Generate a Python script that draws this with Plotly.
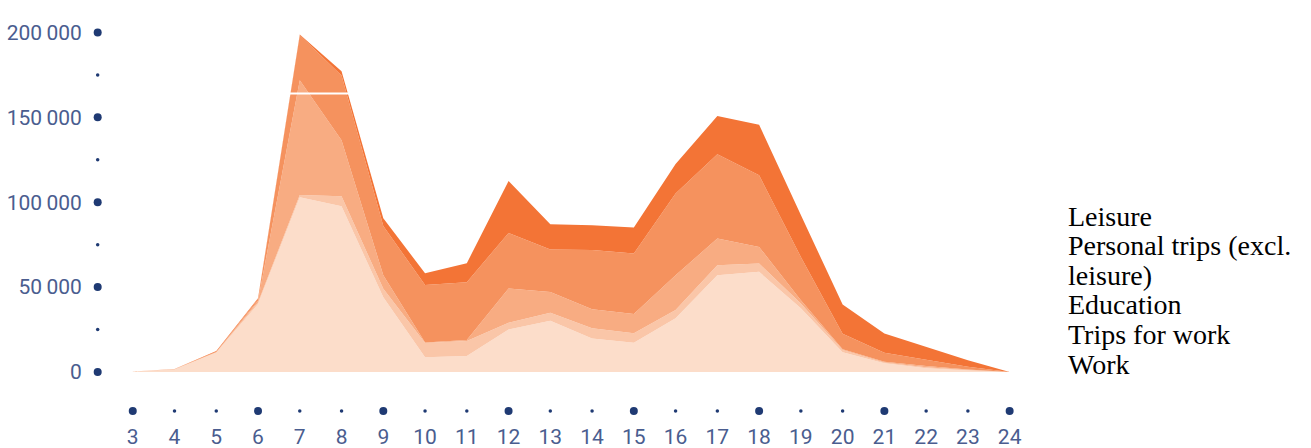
import textwrap
import plotly.graph_objects as go

# ---------------- data ----------------
hours = list(range(3, 25))
series_names = ["Work", "Trips for work", "Education",
                "Personal trips (excl. leisure)", "Leisure"]
work = [300, 1500, 11500, 40000, 103000, 97600, 44000, 8650, 9400, 25100, 30200,
        19800, 17200, 31600, 57000, 59000, 37500, 11600, 5100, 2200, 900, 0]
trips_for_work = [0, 50, 200, 1000, 1300, 5900, 5000, 8450, 8900, 3900, 4700,
                  5900, 5600, 4900, 5900, 4900, 2900, 1300, 500, 600, 300, 0]
education = [0, 50, 100, 1000, 67500, 33000, 8000, 300, 500, 20200, 12300,
             11200, 11300, 20500, 15700, 9800, 1900, 500, 450, 700, 300, 0]
personal = [0, 100, 200, 1000, 26500, 38200, 29000, 33800, 34100, 32700, 25000,
            34900, 35700, 48100, 49600, 42200, 25500, 9100, 5300, 3550, 1600, 0]
leisure = [0, 100, 300, 500, 500, 2500, 4500, 7000, 11200, 30600, 14800,
           14700, 15300, 17400, 22600, 29800, 24700, 17200, 11400, 7650, 3800, 0]

y_tick_values = [0, 50000, 100000, 150000, 200000]
y_tick_labels = ["0", "50\u2009000", "100\u2009000", "150\u2009000", "200\u2009000"]
y_minor_values = [25000, 75000, 125000, 175000]
x_major_hours = [3, 6, 9, 12, 15, 18, 21, 24]
x_tick_labels = [str(h) for h in hours]

# ---------------- style ----------------
colors = ["#FCDDCA", "#FAC6A8", "#F8AC82", "#F5925E", "#F37436"]
label_color = "#4A5D8F"
dot_color = "#1F3A73"
x_range = [2.0, 24.2]
y_range = [-24740, 205000]
dot_row_y = -22970      # row of dot tick marks below the baseline
dot_col_x = 2.16        # column of dot tick marks left of the first hour
M_L, M_R, M_T, M_B = 91, 293, 24, 34
W, H = 1311, 448
plot_h = H - M_T - M_B
plot_w = W - M_L - M_R

fig = go.Figure()
values = [work, trips_for_work, education, personal, leisure]
for name, vals, col in zip(series_names, values, colors):
    fig.add_trace(go.Scatter(
        x=hours, y=vals, name=name, mode="lines", stackgroup="one",
        line=dict(width=0, color=col), fillcolor=col,
        showlegend=False, hoverinfo="x+y+name"))

# dot tick marks along x and y
minor_hours = [h for h in hours if h not in x_major_hours]
dot_sets = [
    (x_major_hours, [dot_row_y] * len(x_major_hours), 8),
    (minor_hours, [dot_row_y] * len(minor_hours), 3.5),
    ([dot_col_x] * len(y_tick_values), y_tick_values, 8),
    ([dot_col_x] * len(y_minor_values), y_minor_values, 3.5),
]
for xs, ys, sz in dot_sets:
    fig.add_trace(go.Scatter(
        x=xs, y=ys, mode="markers", cliponaxis=False,
        marker=dict(size=sz, color=dot_color, line=dict(width=0)),
        showlegend=False, hoverinfo="skip"))

# text legend (no symbols), top item first
legend_lines = []
for name in reversed(series_names):
    legend_lines.extend(textwrap.wrap(name, width=21))
top_px, bottom_px = 216, 364
step = (bottom_px - top_px) / (len(legend_lines) - 1)
annotations = []
for i, line in enumerate(legend_lines):
    ypx = top_px + i * step
    annotations.append(dict(
        text=line, xref="paper", yref="paper", x=(1066 - M_L) / plot_w,
        y=(M_T + plot_h - ypx) / plot_h, xanchor="left", yanchor="middle",
        showarrow=False,
        font=dict(family="Liberation Serif", size=28, color="#000000")))

fig.update_layout(
    width=W, height=H,
    margin=dict(l=M_L, r=M_R, t=M_T, b=M_B),
    paper_bgcolor="white", plot_bgcolor="white",
    annotations=annotations,
    shapes=[dict(type="line", xref="x", yref="y", x0=6.76, x1=8.2,
                 y0=164100, y1=164100, line=dict(color="white", width=2))],
    xaxis=dict(range=x_range, showgrid=False, zeroline=False, showline=False,
               automargin=False,
               tickmode="array", tickvals=hours, ticktext=x_tick_labels,
               ticks="outside", ticklen=4, tickcolor="rgba(0,0,0,0)",
               tickfont=dict(family="Roboto", size=21, color=label_color)),
    yaxis=dict(range=y_range, showgrid=False, zeroline=False, showline=False,
               automargin=False,
               tickmode="array", tickvals=y_tick_values, ticktext=y_tick_labels,
               ticks="outside", ticklen=4, tickcolor="rgba(0,0,0,0)",
               tickfont=dict(family="Roboto", size=21, color=label_color)),
)

fig.write_html("out.html", post_script="document.body.style.margin='0';",
               config={"displayModeBar": False})
